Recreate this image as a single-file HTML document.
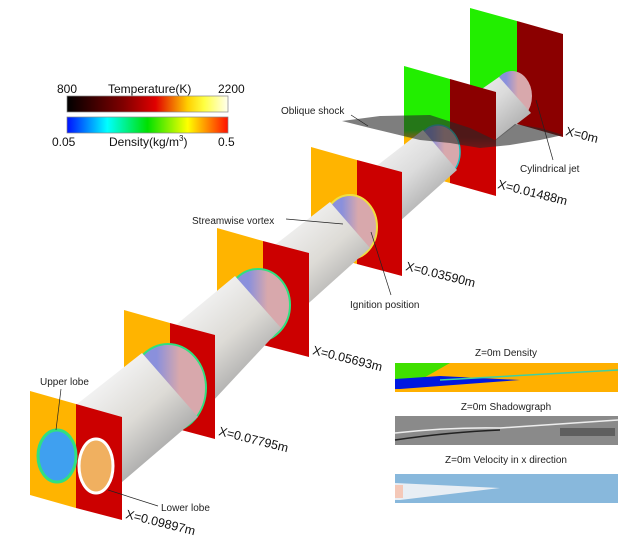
<!DOCTYPE html>
<html><head><meta charset="utf-8"><style>
html,body{margin:0;padding:0;background:#fff;width:631px;height:547px;overflow:hidden}
svg{display:block;font-family:"Liberation Sans",sans-serif}
</style></head><body>
<svg width="631" height="547" viewBox="0 0 631 547">
<defs>
<linearGradient id="tg" gradientUnits="userSpaceOnUse" x1="233" y1="268" x2="297" y2="342">
<stop offset="0" stop-color="#f4f4f4"/><stop offset="0.45" stop-color="#dcdcdc"/><stop offset="0.8" stop-color="#b4b4b4"/><stop offset="1" stop-color="#8c8c8c"/>
</linearGradient>
<linearGradient id="tw" gradientUnits="userSpaceOnUse" x1="233" y1="268" x2="297" y2="342">
<stop offset="0" stop-color="#f2f2f2"/><stop offset="0.5" stop-color="#dddbd6"/><stop offset="1" stop-color="#a8a8a8"/>
</linearGradient>
<linearGradient id="temp" x1="0" x2="1"><stop offset="0" stop-color="#000"/><stop offset="0.35" stop-color="#800000"/><stop offset="0.55" stop-color="#e00000"/><stop offset="0.75" stop-color="#ffd000"/><stop offset="0.85" stop-color="#ffff40"/><stop offset="1" stop-color="#fffff0"/></linearGradient>
<linearGradient id="dens" x1="0" x2="1"><stop offset="0" stop-color="#0010ff"/><stop offset="0.25" stop-color="#00ffff"/><stop offset="0.5" stop-color="#00e000"/><stop offset="0.75" stop-color="#ffff00"/><stop offset="1" stop-color="#ff1000"/></linearGradient>
<linearGradient id="p5l" x1="0" y1="0" x2="0" y2="1"><stop offset="0.55" stop-color="#22ee00"/><stop offset="0.62" stop-color="#ffb400"/></linearGradient>
<linearGradient id="p5r" x1="0" y1="0" x2="0" y2="1"><stop offset="0.5" stop-color="#8b0000"/><stop offset="0.58" stop-color="#cc0000"/></linearGradient>
<linearGradient id="disk" x1="0" x2="1"><stop offset="0.35" stop-color="#8a90dc"/><stop offset="0.65" stop-color="#d8a8ac"/></linearGradient>
</defs>

<!-- Plane 6 -->
<polygon points="470,8 517,21 517,124 470,111" fill="#22ee00"/>
<polygon points="517,21 563,34 563,137 517,124" fill="#8b0000"/>
<ellipse cx="512" cy="96" rx="20" ry="25" fill="url(#disk)"/>
<polygon points="499,77 531,113 457,170 423,130" fill="url(#tg)"/>
<!-- Plane 5 -->
<polygon points="404,66 450,79 450,183 404,170" fill="url(#p5l)"/>
<polygon points="450,79 496,92 496,196 450,183" fill="url(#p5r)"/>
<ellipse cx="438" cy="152" rx="22" ry="27" fill="url(#disk)" stroke="#20c0c0" stroke-width="1.5"/>
<polygon points="423,130 457,170 370,248 330,202" fill="url(#tg)"/>
<!-- shock -->
<polygon points="342,121 380,116 430,115 470,128 495,140 515,124 540,128 563,135 540,140 510,145 480,148 450,143 420,140 395,134 370,128" fill="rgba(40,40,40,0.6)"/>
<!-- Plane 4 -->
<polygon points="311,147 357,160 357,264 311,251" fill="#ffb400"/>
<polygon points="357,160 402,172 402,276 357,264" fill="#cc0000"/>
<ellipse cx="350" cy="227" rx="27" ry="32" fill="url(#disk)" stroke="#f0e040" stroke-width="2"/>
<polygon points="330,202 370,248 281,328 235,276" fill="url(#tw)"/>
<!-- Plane 3 -->
<polygon points="217,228 263,241 263,345 217,332" fill="#ffb400"/>
<polygon points="263,241 309,253 309,357 263,345" fill="#cc0000"/>
<ellipse cx="258" cy="305" rx="32" ry="36" fill="url(#disk)" stroke="#30e080" stroke-width="2"/>
<polygon points="235,276 281,328 198,417 142,353" fill="url(#tw)"/>
<!-- Plane 2 -->
<polygon points="124,310 170,323 170,427 124,414" fill="#ffb400"/>
<polygon points="170,323 215,335 215,439 170,427" fill="#cc0000"/>
<ellipse cx="168" cy="388" rx="38" ry="44" fill="url(#disk)" stroke="#30e080" stroke-width="2"/>
<polygon points="142,353 198,417 108,494 49,426" fill="url(#tw)"/>
<!-- Plane 1 -->
<polygon points="30,391 76,404 76,508 30,495" fill="#ffb400"/>
<polygon points="76,404 122,417 122,520 76,508" fill="#cc0000"/>
<ellipse cx="57" cy="456" rx="19" ry="26" fill="#3fa0f0" stroke="#30e080" stroke-width="3"/>
<ellipse cx="96" cy="466" rx="17" ry="27" fill="#f0b060" stroke="#fff" stroke-width="3"/>

<!-- Legend -->
<rect x="67" y="96" width="161" height="16" fill="url(#temp)" stroke="#888" stroke-width="0.7"/>
<rect x="67" y="117" width="161" height="16" fill="url(#dens)" stroke="#888" stroke-width="0.7"/>
<g font-size="12" fill="#111">
<text x="57" y="93">800</text><text x="108" y="93">Temperature(K)</text><text x="218" y="93">2200</text>
<text x="52" y="146">0.05</text><text x="109" y="146">Density(kg/m<tspan font-size="8" dy="-5">3</tspan><tspan dy="5">)</tspan></text><text x="218" y="146">0.5</text>
</g>

<!-- labels -->
<g font-size="10" fill="#222">
<text x="281" y="114">Oblique shock</text>
<text x="520" y="172">Cylindrical jet</text>
<text x="192" y="224">Streamwise vortex</text>
<text x="350" y="308">Ignition position</text>
<text x="40" y="385">Upper lobe</text>
<text x="161" y="511">Lower lobe</text>
</g>
<g stroke="#222" stroke-width="0.7" fill="none">
<line x1="351" y1="115" x2="368" y2="126"/>
<line x1="553" y1="160" x2="536" y2="100"/>
<line x1="286" y1="219" x2="343" y2="224"/>
<line x1="391" y1="295" x2="371" y2="232"/>
<line x1="61" y1="389" x2="56" y2="430"/>
<line x1="158" y1="506" x2="108" y2="490"/>
</g>
<g font-size="12.5" fill="#111">
<text x="565" y="135" transform="rotate(14 565 135)">X=0m</text>
<text x="497" y="188" transform="rotate(14 497 188)">X=0.01488m</text>
<text x="405" y="270" transform="rotate(14 405 270)">X=0.03590m</text>
<text x="312" y="354" transform="rotate(14 312 354)">X=0.05693m</text>
<text x="218" y="435" transform="rotate(14 218 435)">X=0.07795m</text>
<text x="125" y="518" transform="rotate(14 125 518)">X=0.09897m</text>
</g>

<!-- slices -->
<g font-size="10" fill="#222" text-anchor="middle">
<text x="506" y="356">Z=0m Density</text>
<text x="506" y="410">Z=0m Shadowgraph</text>
<text x="506" y="463">Z=0m Velocity in x direction</text>
</g>
<rect x="395" y="363" width="223" height="29" fill="#ffb000"/>
<polygon points="395,363 450,363 420,380 395,382" fill="#40e000"/>
<polygon points="395,379 440,376 520,380 400,389 395,389" fill="#0018e0"/>
<line x1="440" y1="380" x2="618" y2="370" stroke="#40d0a0" stroke-width="1.5"/>
<rect x="395" y="416" width="223" height="29" fill="#8a8a8a"/>
<path d="M395,433 Q450,427 500,428 L618,420" stroke="#eee" stroke-width="1.5" fill="none"/>
<path d="M395,440 Q450,432 500,430" stroke="#222" stroke-width="1.5" fill="none"/>
<rect x="560" y="428" width="55" height="8" fill="#333" opacity="0.5"/>
<rect x="395" y="474" width="223" height="29" fill="#88b8dc"/>
<polygon points="395,483 500,488 400,500 395,500" fill="#e8eef4"/>
<rect x="395" y="485" width="8" height="13" fill="#f4c8b8"/>
</svg>
</body></html>
